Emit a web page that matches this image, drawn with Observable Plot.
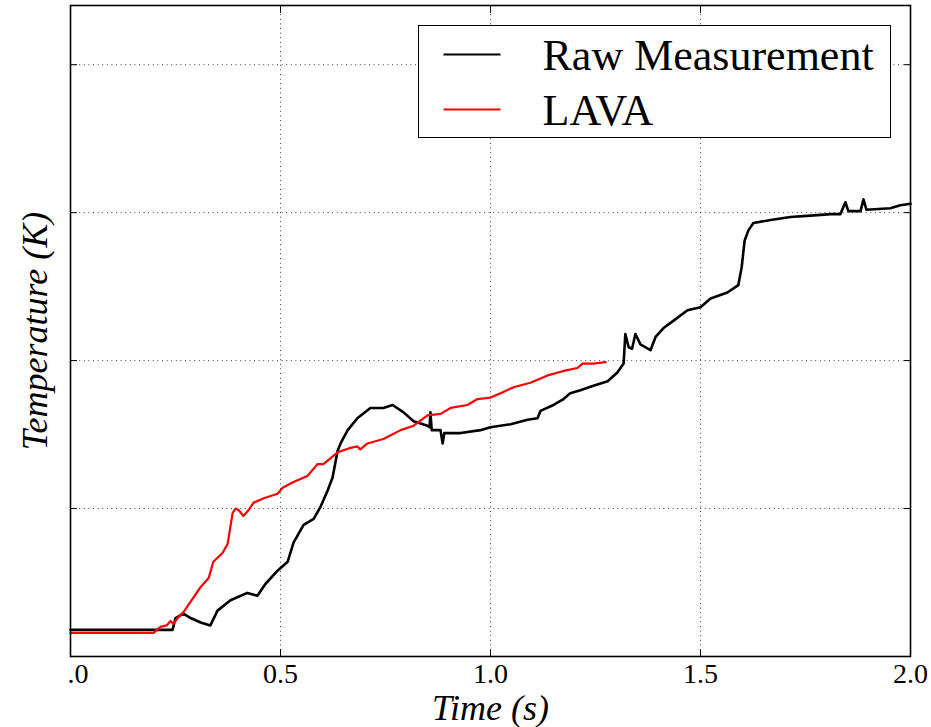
<!DOCTYPE html>
<html><head><meta charset="utf-8">
<script src="https://cdn.jsdelivr.net/npm/d3@7"></script>
<script src="https://cdn.jsdelivr.net/npm/@observablehq/plot@0.6"></script>
<style>
body{margin:0;background:#fff}
#chart{position:relative;width:931px;height:727px}
#legend{position:absolute;left:418px;top:25px;width:473px;height:113px;box-sizing:border-box;border:1.5px solid #000;background:#fff}
</style>
</head><body><div id="chart"></div>
<script>
const rawTime = [0, 0.06, 0.12, 0.18, 0.243, 0.25, 0.269, 0.286, 0.31, 0.333, 0.35, 0.381, 0.421, 0.445, 0.464, 0.493, 0.517, 0.531, 0.555, 0.579, 0.595, 0.612, 0.624, 0.636, 0.643, 0.660, 0.683, 0.714, 0.745, 0.767, 0.793, 0.817, 0.850, 0.855, 0.857, 0.860, 0.881, 0.886, 0.890, 0.929, 0.976, 1.000, 1.048, 1.088, 1.112, 1.119, 1.150, 1.174, 1.190, 1.214, 1.245, 1.279, 1.302, 1.317, 1.321, 1.329, 1.337, 1.345, 1.357, 1.381, 1.393, 1.412, 1.436, 1.469, 1.500, 1.524, 1.564, 1.590, 1.598, 1.605, 1.614, 1.626, 1.667, 1.714, 1.762, 1.810, 1.833, 1.845, 1.852, 1.881, 1.888, 1.895, 1.952, 1.976, 2.000];
const rawTemp = [0.18, 0.18, 0.18, 0.18, 0.18, 0.26, 0.29, 0.26, 0.23, 0.21, 0.31, 0.38, 0.43, 0.41, 0.49, 0.58, 0.64, 0.77, 0.89, 0.93, 1.01, 1.12, 1.21, 1.39, 1.44, 1.53, 1.61, 1.68, 1.68, 1.70, 1.65, 1.59, 1.56, 1.55, 1.65, 1.53, 1.53, 1.44, 1.51, 1.51, 1.53, 1.55, 1.57, 1.60, 1.61, 1.66, 1.70, 1.74, 1.78, 1.80, 1.83, 1.86, 1.92, 1.98, 2.18, 2.09, 2.08, 2.18, 2.11, 2.07, 2.16, 2.22, 2.27, 2.34, 2.36, 2.42, 2.46, 2.51, 2.63, 2.81, 2.88, 2.93, 2.95, 2.97, 2.98, 2.99, 2.99, 3.07, 3.01, 3.01, 3.09, 3.02, 3.03, 3.05, 3.06];
const lavaTime = [0, 0.198, 0.214, 0.229, 0.238, 0.245, 0.255, 0.269, 0.293, 0.310, 0.329, 0.340, 0.362, 0.374, 0.386, 0.393, 0.400, 0.412, 0.424, 0.436, 0.460, 0.493, 0.505, 0.531, 0.564, 0.588, 0.602, 0.636, 0.667, 0.683, 0.690, 0.707, 0.745, 0.786, 0.817, 0.850, 0.881, 0.905, 0.945, 0.969, 1.000, 1.024, 1.055, 1.095, 1.136, 1.174, 1.207, 1.219, 1.245, 1.274];
const lavaTemp = [0.16, 0.16, 0.20, 0.21, 0.24, 0.22, 0.26, 0.30, 0.40, 0.47, 0.53, 0.64, 0.70, 0.76, 0.97, 1.00, 0.99, 0.95, 0.99, 1.04, 1.07, 1.10, 1.14, 1.18, 1.22, 1.30, 1.30, 1.38, 1.41, 1.42, 1.40, 1.44, 1.47, 1.53, 1.56, 1.63, 1.64, 1.68, 1.70, 1.74, 1.75, 1.78, 1.82, 1.85, 1.90, 1.93, 1.95, 1.98, 1.98, 1.99];
const xTicks = [0, 0.5, 1.0, 1.5, 2.0];
const yTicks = [1, 2, 3, 4];
const seriesNames = ["Raw Measurement", "LAVA"];
const seriesColors = ["#000000", "#ff0000"];
const xLabel = "Time (s)";
const yLabel = "Temperature (K)";
const xDomain = [0, 2];
const yDomain = [0, 4.4];

const raw = rawTime.map((t, i) => ({t, v: rawTemp[i]}));
const lava = lavaTime.map((t, i) => ({t, v: lavaTemp[i]}));
const innerX = xTicks.filter(d => d > xDomain[0] && d < xDomain[1]);
const grid = {stroke: "#000", strokeOpacity: 0.75, strokeWidth: 1, strokeDasharray: "1,3.6"};

const plot = Plot.plot({
  width: 931, height: 727,
  marginLeft: 70, marginRight: 21, marginTop: 5, marginBottom: 71,
  style: {fontFamily: "'Liberation Serif', serif", fontSize: "28px", background: "#fff", color: "#000"},
  x: {domain: xDomain},
  y: {domain: yDomain},
  marks: [
    Plot.gridX(innerX, grid),
    Plot.gridY(yTicks, grid),
    Plot.axisX(innerX, {anchor: "bottom", tickSize: -7, tickFormat: () => "", label: null}),
    Plot.axisX(innerX, {anchor: "top", tickSize: -7, tickFormat: () => "", label: null}),
    Plot.axisY(yTicks, {anchor: "left", tickSize: -7, tickFormat: () => "", label: null}),
    Plot.axisY(yTicks, {anchor: "right", tickSize: -7, tickFormat: () => "", label: null}),
    Plot.axisX(xTicks.filter(d => d !== 0), {anchor: "bottom", tickSize: 0, tickPadding: 7, tickFormat: d => d.toFixed(1), label: null, fontSize: 28}),
    Plot.axisX([0], {anchor: "bottom", tickSize: 0, tickPadding: 7, tickFormat: () => ".0", textAnchor: "start", dx: -3, label: null, fontSize: 28}),
    Plot.line(raw, {x: "t", y: "v", stroke: seriesColors[0], strokeWidth: 2.6}),
    Plot.line(lava, {x: "t", y: "v", stroke: seriesColors[1], strokeWidth: 2.2}),
    Plot.frame({stroke: "#000", strokeWidth: 1.6}),
    Plot.text([xLabel], {frameAnchor: "bottom", lineAnchor: "middle", textAnchor: "middle", dy: 52, fontSize: 36, fontStyle: "italic", fill: "#000"}),
    Plot.text([yLabel], {frameAnchor: "left", lineAnchor: "middle", textAnchor: "middle", rotate: -90, dx: -35.5, fontSize: 36, fontStyle: "italic", fill: "#000"})
  ]
});
const chart = document.getElementById("chart");
chart.appendChild(plot);

// legend overlay
const leg = document.createElement("div");
leg.id = "legend";
const ls = d3.select(leg).append("svg").attr("width", 470).attr("height", 110)
  .style("position", "absolute").style("left", "0px").style("top", "0px");
const rowY = [28.5, 83.5];
seriesNames.forEach((name, i) => {
  ls.append("line").attr("x1", 24.5).attr("x2", 81.5).attr("y1", rowY[i]).attr("y2", rowY[i])
    .attr("stroke", seriesColors[i]).attr("stroke-width", 2.2);
  ls.append("text").attr("x", 123.5).attr("y", rowY[i] + 15)
    .attr("font-family", "'Liberation Serif', serif").attr("font-size", 44).attr("fill", "#000")
    .text(name);
});
chart.appendChild(leg);
</script>
</body></html>
